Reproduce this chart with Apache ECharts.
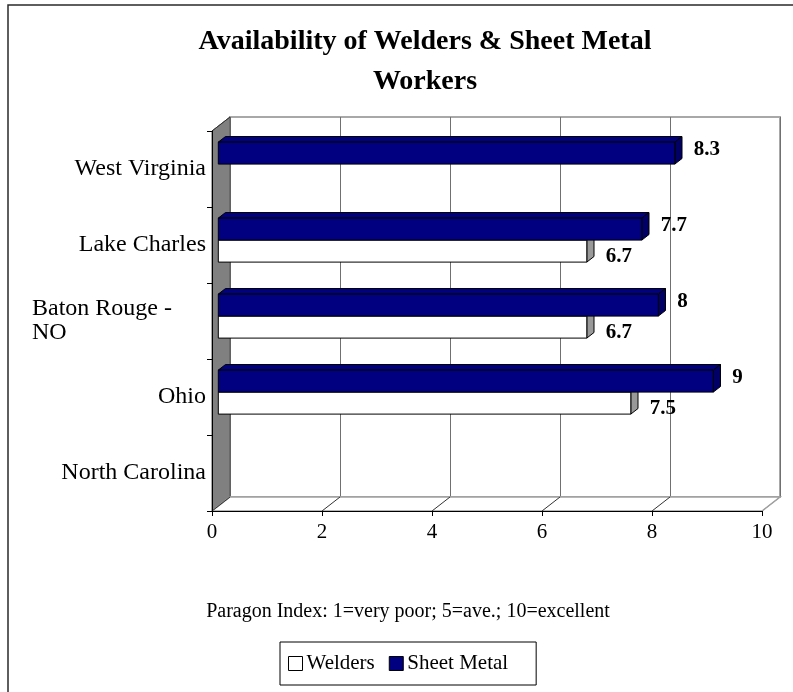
<!DOCTYPE html>
<html>
<head>
<meta charset="utf-8">
<script src="https://cdn.jsdelivr.net/npm/echarts@6/dist/echarts.min.js"></script>
<style>
  html, body { margin: 0; padding: 0; background: #fff; }
  #chart { width: 793px; height: 692px; }
</style>
</head>
<body>
<div id="chart"></div>
<script>
// Ratings per location (Paragon Index, 1-10)
const categories = ['West Virginia', 'Lake Charles', 'Baton Rouge - NO', 'Ohio', 'North Carolina'];
const welders = [null, 6.7, 6.7, 7.5, null];
const sheetMetal = [8.3, 7.7, 8, 9, null];
const xTicks = [0, 2, 4, 6, 8, 10];
const seriesNames = ['Welders', 'Sheet Metal'];
const titleText = 'Availability of Welders & Sheet Metal\nWorkers';
const noteText = 'Paragon Index: 1=very poor; 5=ave.; 10=excellent';

const FONT = '"Liberation Serif", "Times New Roman", serif';
// front plane of the plot box and the depth vector toward the back wall
const FRONT = { left: 212, top: 131, width: 550, height: 380 };
const DEPTH = [18, -14];
// bars sit between 35% and 75% of the box depth
const BAR_FRONT = 0.35, BAR_DEPTH = 0.4, BAR_RATIO = 22 / 76;

const NAVY = '#000080';

function toPoints(values) {
  return values.map((v, i) => [v, i]).filter(d => d[0] != null);
}

// 3-D looking horizontal bar: front face, top face and end face
function barRenderer(slot, faces) {
  return function (params, api) {
    const v = api.value(0);
    const ci = api.value(1);
    const p0 = api.coord([0, ci]);
    const p1 = api.coord([v, ci]);
    const band = api.size([0, 1])[1];
    const th = band * BAR_RATIO;
    const ox = DEPTH[0] * BAR_FRONT, oy = DEPTH[1] * BAR_FRONT;
    const dx = DEPTH[0] * BAR_DEPTH, dy = DEPTH[1] * BAR_DEPTH;
    const x0 = p0[0] + ox, x1 = p1[0] + ox;
    const y0 = p0[1] + oy - (slot === 0 ? th : 0);
    const y1 = y0 + th;
    const stroke = { stroke: '#000', lineWidth: 1 };
    return {
      type: 'group',
      children: [
        { type: 'polygon', shape: { points: [[x0, y0], [x1, y0], [x1 + dx, y0 + dy], [x0 + dx, y0 + dy]] },
          style: Object.assign({ fill: faces.top }, stroke) },
        { type: 'polygon', shape: { points: [[x1, y0], [x1 + dx, y0 + dy], [x1 + dx, y1 + dy], [x1, y1]] },
          style: Object.assign({ fill: faces.side }, stroke) },
        { type: 'rect', shape: { x: x0, y: y0, width: x1 - x0, height: th },
          style: Object.assign({ fill: faces.front }, stroke) },
        { type: 'text', x: x1 + 19, y: (y0 + y1) / 2 + (slot === 0 ? -4 : 5),
          style: { text: String(v), fill: '#000', font: 'bold 21px ' + FONT,
                   textAlign: 'left', textVerticalAlign: 'middle' } }
      ]
    };
  };
}

// left wall, floor and the floor's tick guides
function frameRenderer(params, api) {
  const cs = params.coordSys;
  const X0 = cs.x, Y0 = cs.y, W = cs.width, H = cs.height;
  const [dx, dy] = DEPTH;
  const yb = Y0 + H;
  const children = [
    { type: 'polygon', shape: { points: [[X0, Y0], [X0 + dx, Y0 + dy], [X0 + dx, yb + dy], [X0, yb]] },
      style: { fill: '#808080', stroke: '#555', lineWidth: 1 } },
    { type: 'polygon', shape: { points: [[X0, yb], [X0 + dx, yb + dy], [X0 + W + dx, yb + dy], [X0 + W, yb]] },
      style: { fill: '#fff', stroke: '#a0a0a0', lineWidth: 1.5 } },
    { type: 'line', shape: { x1: X0, y1: Y0, x2: X0 + dx, y2: Y0 + dy },
      style: { stroke: '#333', lineWidth: 1 } }
  ];
  xTicks.forEach(t => {
    const x = api.coord([t, 0])[0];
    children.push({ type: 'line', shape: { x1: x, y1: yb, x2: x + dx, y2: yb + dy },
      style: { stroke: t === xTicks[xTicks.length - 1] ? '#a0a0a0' : '#333', lineWidth: 1 } });
  });
  return { type: 'group', children };
}

const chart = echarts.init(document.getElementById('chart'));

chart.setOption({
  backgroundColor: '#fff',
  animation: false,
  title: [
    { text: titleText, left: 425, top: 22, textAlign: 'center', padding: 0,
      textStyle: { fontFamily: FONT, fontSize: 28, fontWeight: 'bold', color: '#000', lineHeight: 40 } },
    { text: noteText, left: 408, top: 601, textAlign: 'center', padding: 0,
      textStyle: { fontFamily: FONT, fontSize: 20, fontWeight: 'normal', color: '#000', lineHeight: 22 } }
  ],
  legend: {
    left: 280, top: 642,
    padding: [11, 28, 11, 8],
    itemGap: 14, itemWidth: 14, itemHeight: 14,
    borderColor: '#000', borderWidth: 1, backgroundColor: '#fff',
    icon: 'rect',
    textStyle: { fontFamily: FONT, fontSize: 21, color: '#000', padding: [0, 0, 0, -1] },
    data: [
      { name: seriesNames[0], itemStyle: { color: '#fff', borderColor: '#000', borderWidth: 1 } },
      { name: seriesNames[1], itemStyle: { color: NAVY, borderColor: '#000', borderWidth: 1 } }
    ]
  },
  grid: [
    { left: FRONT.left, top: FRONT.top, width: FRONT.width, height: FRONT.height, show: false },
    { left: FRONT.left + DEPTH[0], top: FRONT.top + DEPTH[1], width: FRONT.width, height: FRONT.height,
      show: true, backgroundColor: '#fff', borderColor: '#a8a8a8', borderWidth: 2 }
  ],
  xAxis: [
    { type: 'value', gridIndex: 0, min: 0, max: 10, interval: 2, z: 10,
      axisLine: { show: true, lineStyle: { color: '#000', width: 1 } },
      axisTick: { show: true, length: 5, lineStyle: { color: '#000' } },
      axisLabel: { margin: 11, fontFamily: FONT, fontSize: 21, color: '#000' },
      splitLine: { show: false } },
    { type: 'value', gridIndex: 1, min: 0, max: 10, interval: 2,
      axisLine: { show: false }, axisTick: { show: false }, axisLabel: { show: false },
      splitLine: { show: true, lineStyle: { color: '#707070', width: 1 } } }
  ],
  yAxis: [
    { type: 'category', gridIndex: 0, data: categories, inverse: true, z: 10,
      axisLine: { show: true, lineStyle: { color: '#000', width: 1 } },
      axisTick: { show: true, length: 5, lineStyle: { color: '#000' } },
      axisLabel: {
        margin: 6, fontFamily: FONT, fontSize: 24, color: '#000',
        formatter: v => v.indexOf(' - ') >= 0
          ? v.split(' - ').map((s, i, a) => '{w|' + s + (i < a.length - 1 ? ' -' : '') + '}').join('\n')
          : v,
        rich: { w: { fontFamily: FONT, fontSize: 24, color: '#000', width: 174, align: 'left', lineHeight: 24 } }
      },
      splitLine: { show: false } },
    { type: 'category', gridIndex: 1, data: categories, inverse: true, show: false }
  ],
  series: [
    { type: 'custom', name: 'frame', xAxisIndex: 0, yAxisIndex: 0, z: 1, silent: true,
      renderItem: frameRenderer, data: [[0, 0]] },
    { type: 'custom', name: seriesNames[0], xAxisIndex: 0, yAxisIndex: 0, z: 5,
      itemStyle: { color: '#fff', borderColor: '#000' },
      encode: { x: 0, y: 1 },
      renderItem: barRenderer(1, { front: '#fff', top: '#fff', side: '#999' }),
      data: toPoints(welders) },
    { type: 'custom', name: seriesNames[1], xAxisIndex: 0, yAxisIndex: 0, z: 6,
      itemStyle: { color: NAVY, borderColor: '#000' },
      encode: { x: 0, y: 1 },
      renderItem: barRenderer(0, { front: NAVY, top: NAVY, side: '#000066' }),
      data: toPoints(sheetMetal) }
  ],
  graphic: [
    { type: 'rect', z: -1, silent: true, shape: { x: 8, y: 5, width: 900, height: 900 },
      style: { fill: 'none', stroke: '#2a2a2a', lineWidth: 1.5 } }
  ]
});
</script>
</body>
</html>
